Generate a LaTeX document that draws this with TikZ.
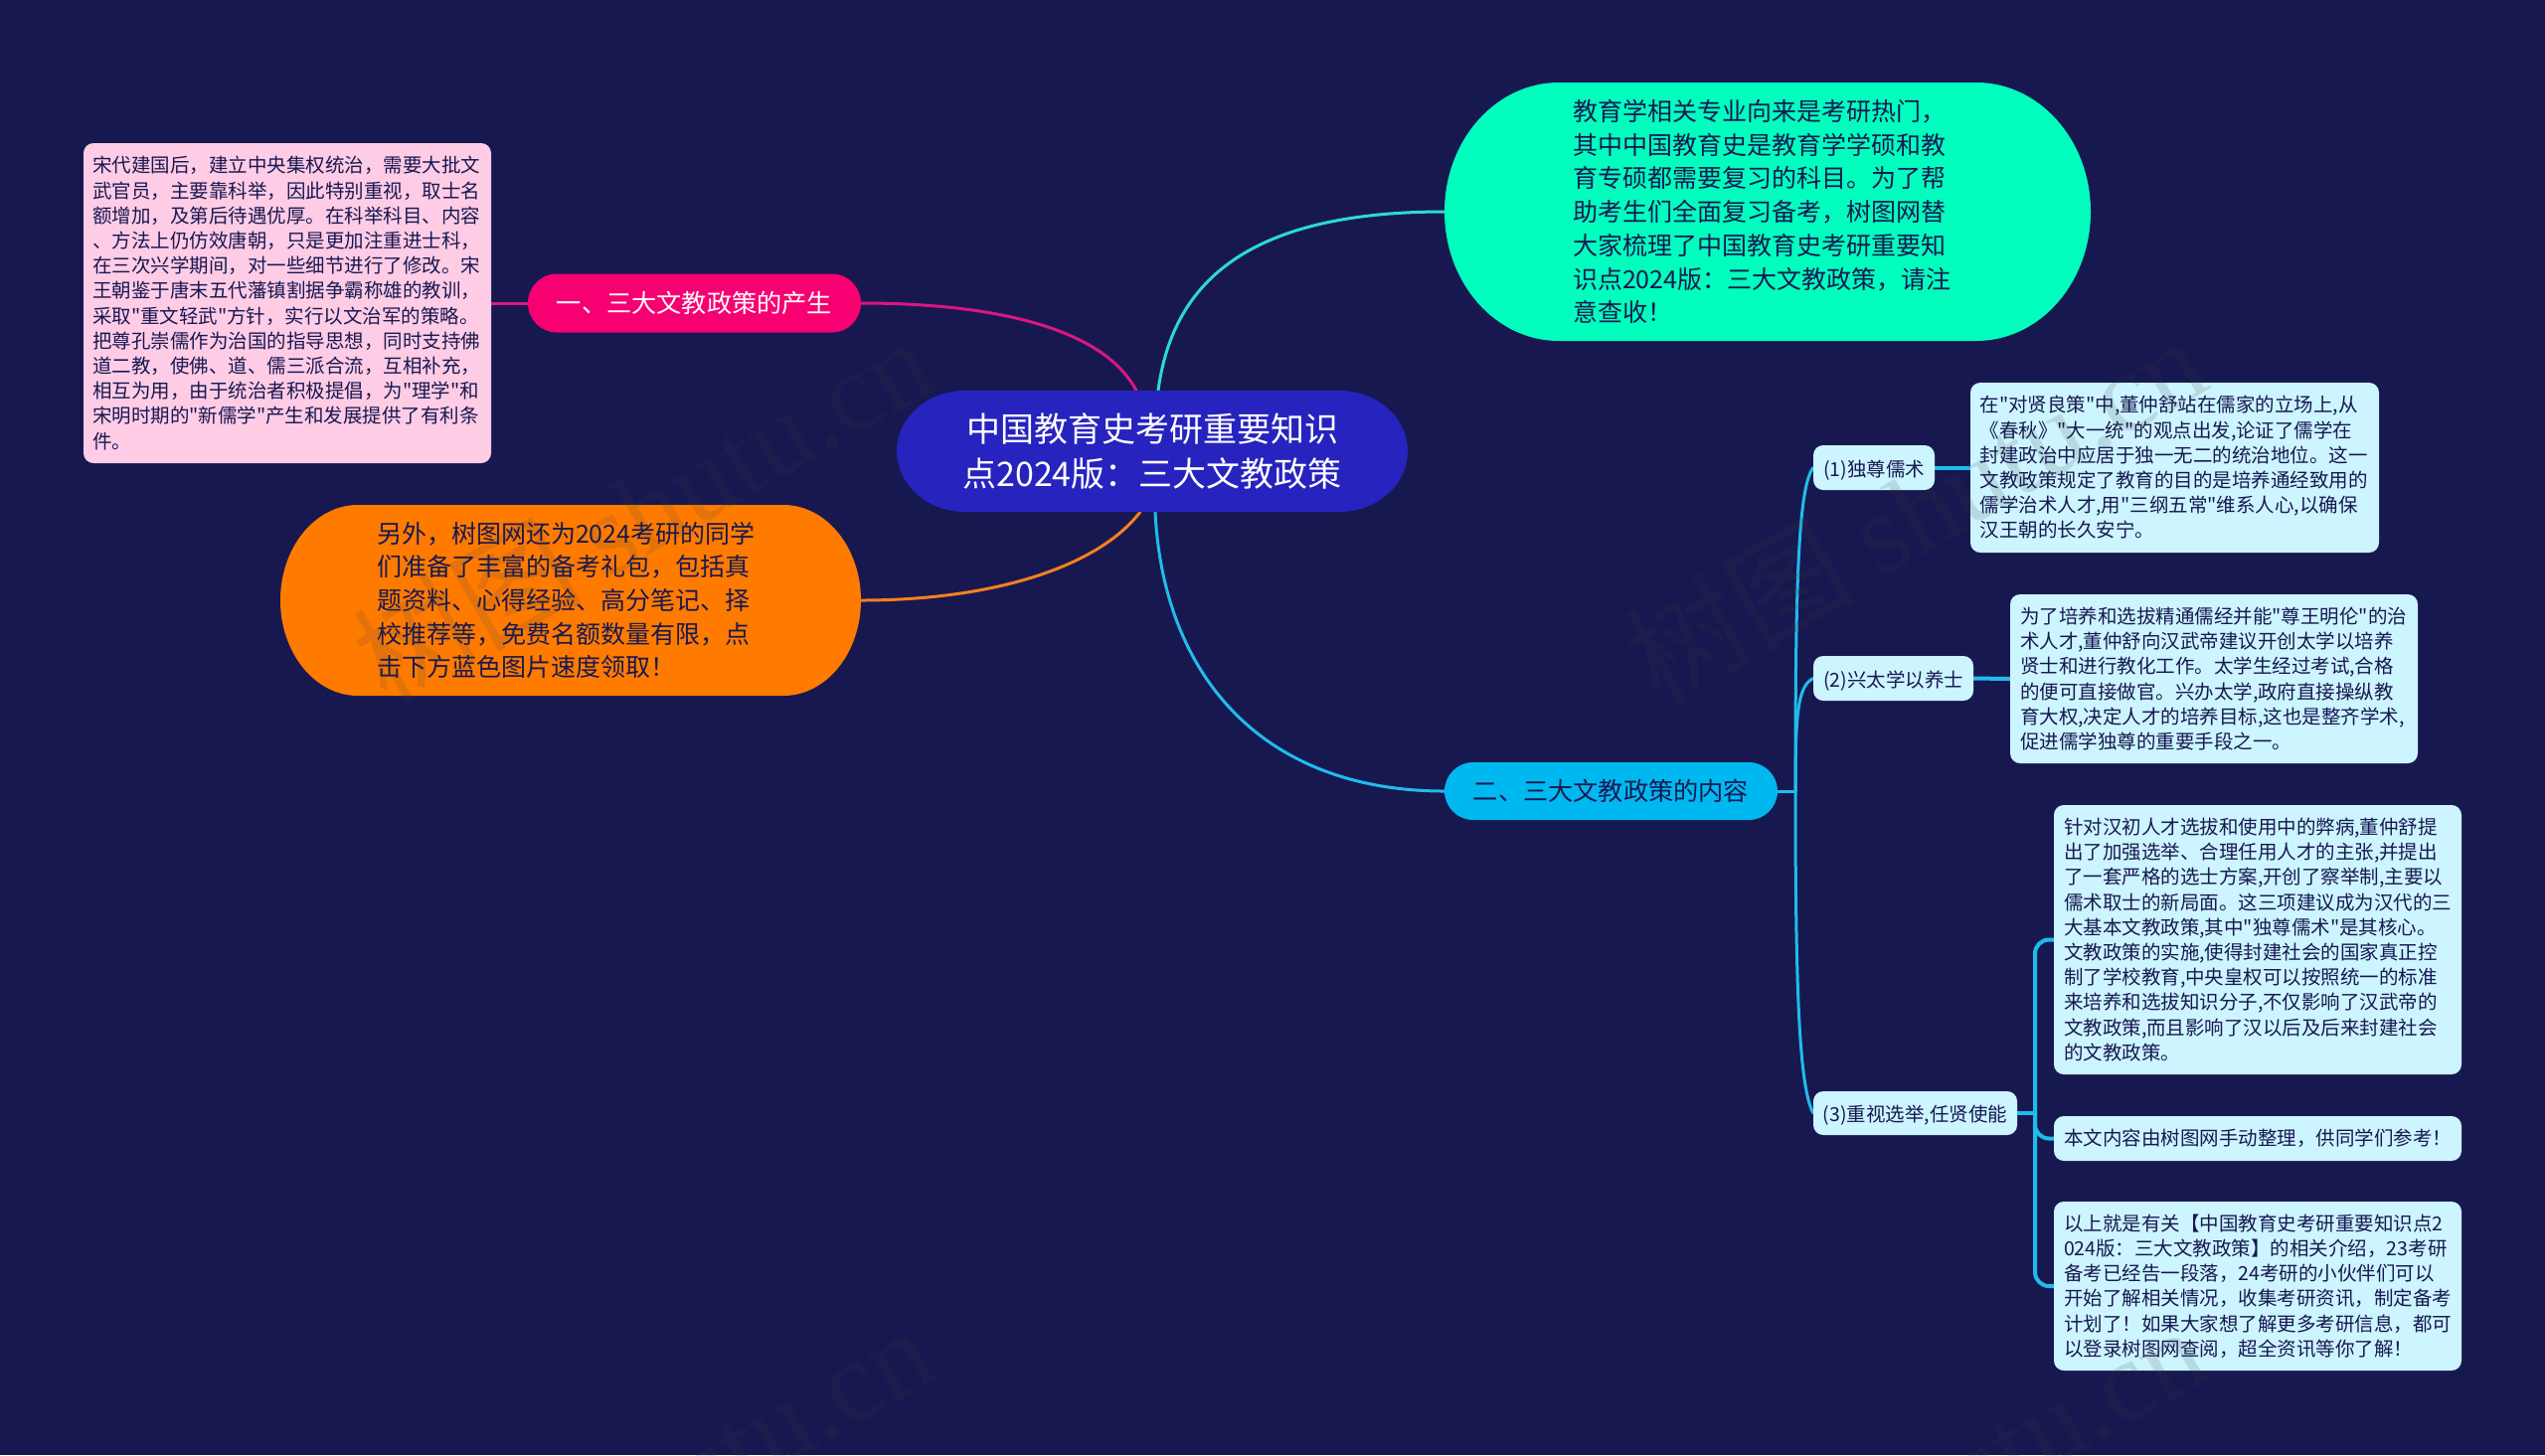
\documentclass[tikz,border=0pt]{standalone}
\usepackage{fontspec}
\usetikzlibrary{calc}
\newfontfamily\cjk{Noto Sans CJK SC}
\newfontfamily\wmfont{Liberation Serif}
\definecolor{bgc}{HTML}{181850}
\definecolor{centralc}{HTML}{2723BF}
\definecolor{greenc}{HTML}{00FFBE}
\definecolor{orangec}{HTML}{FF7B00}
\definecolor{redc}{HTML}{F70072}
\definecolor{cyanc}{HTML}{00B8F0}
\definecolor{lightc}{HTML}{CCF5FF}
\definecolor{pinkc}{HTML}{FFCCE6}
\definecolor{txtc}{HTML}{181850}
\definecolor{linkred}{HTML}{D81880}
\definecolor{linkgreen}{HTML}{2ADCD0}
\definecolor{linkorange}{HTML}{F58020}
\definecolor{linkblue}{HTML}{20BCEC}
\definecolor{wmc}{HTML}{404040}
\pgfdeclarelayer{bg}
\pgfsetlayers{bg,main}
\newcommand{\pillshape}[4]{%
  \fill[#4] ($(#1.north west)+(#2,0)$) -- ($(#1.north east)+(-#2,0)$)
    arc[start angle=-90,end angle=0,x radius=#2,y radius=#3]
    -- ($(#1.south east)+(0,-#3)$)
    arc[start angle=0,end angle=90,x radius=#2,y radius=#3]
    -- ($(#1.south west)+(#2,0)$)
    arc[start angle=90,end angle=180,x radius=#2,y radius=#3]
    -- ($(#1.north west)+(0,#3)$)
    arc[start angle=180,end angle=270,x radius=#2,y radius=#3]
    -- cycle;}
\tikzset{
  base/.style={inner sep=0pt,outer sep=0pt,font=\cjk\fontsize{9.75}{12.6}\selectfont,text=txtc},
  lightbox/.style={base,fill=lightc,rounded corners=5pt,align=left},
  smallbox/.style={lightbox,align=center,text height=10pt,text depth=1.5pt},
  pinkbox/.style={base,fill=pinkc,rounded corners=5pt,align=left},
  bigpill/.style={base,font=\cjk\fontsize{12.5}{16.85}\selectfont,align=left},
  midpill/.style={base,font=\cjk\fontsize{12.6}{15}\selectfont},
  link/.style={line width=1.5pt,line cap=round},
  wmark/.style={inner sep=0pt,rotate=30,text=wmc,opacity=0.15,font=\fontsize{57.5}{62}\selectfont},
}
\begin{document}
\begin{tikzpicture}[x=0.5pt,y=-0.5pt]
\useasboundingbox (0,0) rectangle (2560,1464);

% main nodes
\node[base,font=\cjk\fontsize{17}{22.5}\selectfont,text=white,align=center,minimum width=257pt,minimum height=61pt] (central) at (1159,454)
 {中国教育史考研重要知识\\点2024版：三大文教政策};
\node[bigpill,text width=196pt,minimum width=325pt,minimum height=130pt] (intro) at (1778,213)
 {教育学相关专业向来是考研热门，\\其中中国教育史是教育学学硕和教\\育专硕都需要复习的科目。为了帮\\助考生们全面复习备考，树图网替\\大家梳理了中国教育史考研重要知\\识点2024版：三大文教政策，请注\\意查收！};
\node[bigpill,text width=195pt,minimum width=292pt,minimum height=96pt] (gift) at (574,604)
 {另外，树图网还为2024考研的同学\\们准备了丰富的备考礼包，包括真\\题资料、心得经验、高分笔记、择\\校推荐等，免费名额数量有限，点\\击下方蓝色图片速度领取！};
\node[midpill,text=white,minimum width=167.5pt,minimum height=29.5pt] (one) at (698.5,305) {一、三大文教政策的产生};
\node[midpill,minimum width=167.5pt,minimum height=29pt] (two) at (1620.5,796) {二、三大文教政策的内容};
\node[pinkbox,text width=196pt,minimum width=205pt,minimum height=161pt] (origin) at (289,305)
 {宋代建国后，建立中央集权统治，需要大批文\\武官员，主要靠科举，因此特别重视，取士名\\额增加，及第后待遇优厚。在科举科目、内容\\、方法上仍仿效唐朝，只是更加注重进士科，\\在三次兴学期间，对一些细节进行了修改。宋\\王朝鉴于唐末五代藩镇割据争霸称雄的教训，\\采取"重文轻武"方针，实行以文治军的策略。\\把尊孔崇儒作为治国的指导思想，同时支持佛\\道二教，使佛、道、儒三派合流，互相补充，\\相互为用，由于统治者积极提倡，为"理学"和\\宋明时期的"新儒学"产生和发展提供了有利条\\件。};

\node[smallbox,minimum width=61pt,minimum height=22.5pt] (s1) at (1885,470.5) {(1)独尊儒术};
\node[smallbox,minimum width=80.5pt,minimum height=22.5pt] (s2) at (1904.5,682.5) {(2)兴太学以养士};
\node[smallbox,minimum width=102.5pt,minimum height=22pt] (s3) at (1926.5,1120) {(3)重视选举,任贤使能};

\node[lightbox,text width=196pt,minimum width=205.5pt,minimum height=85.5pt] (a) at (2187.5,470.5)
 {在"对贤良策"中,董仲舒站在儒家的立场上,从\\《春秋》"大一统"的观点出发,论证了儒学在\\封建政治中应居于独一无二的统治地位。这一\\文教政策规定了教育的目的是培养通经致用的\\儒学治术人才,用"三纲五常"维系人心,以确保\\汉王朝的长久安宁。};
\node[lightbox,text width=195pt,minimum width=205pt,minimum height=85pt] (b) at (2227,683)
 {为了培养和选拔精通儒经并能"尊王明伦"的治\\术人才,董仲舒向汉武帝建议开创太学以培养\\贤士和进行教化工作。太学生经过考试,合格\\的便可直接做官。兴办太学,政府直接操纵教\\育大权,决定人才的培养目标,这也是整齐学术,\\促进儒学独尊的重要手段之一。};
\node[lightbox,text width=195pt,minimum width=205pt,minimum height=135.5pt] (c) at (2271,945.5)
 {针对汉初人才选拔和使用中的弊病,董仲舒提\\出了加强选举、合理任用人才的主张,并提出\\了一套严格的选士方案,开创了察举制,主要以\\儒术取士的新局面。这三项建议成为汉代的三\\大基本文教政策,其中"独尊儒术"是其核心。\\文教政策的实施,使得封建社会的国家真正控\\制了学校教育,中央皇权可以按照统一的标准\\来培养和选拔知识分子,不仅影响了汉武帝的\\文教政策,而且影响了汉以后及后来封建社会\\的文教政策。};
\node[lightbox,text width=195pt,minimum width=205pt,minimum height=22.5pt] (d) at (2271,1145.5)
 {本文内容由树图网手动整理，供同学们参考！};
\node[lightbox,text width=195pt,minimum width=205pt,minimum height=85pt] (e) at (2271,1294)
 {以上就是有关【中国教育史考研重要知识点2\\024版：三大文教政策】的相关介绍，23考研\\备考已经告一段落，24考研的小伙伴们可以\\开始了解相关情况，收集考研资讯，制定备考\\计划了！如果大家想了解更多考研信息，都可\\以登录树图网查阅，超全资讯等你了解！};

% junction coordinates
\coordinate (cTopL) at (1143,393);
\coordinate (cTopR) at (1165,393);
\coordinate (cBotL) at (1147,515);
\coordinate (cBotR) at (1162,515);
\coordinate (tr) at (1806,796);
\coordinate (t3) at (2047,1120);

\begin{pgfonlayer}{bg}
  \fill[bgc] (0,0) rectangle (2560,1464);
  \draw[link,linkred] (one.east) .. controls (1000,305) and (1110,330) .. (cTopL);
  \draw[link,linkgreen] (intro.west) .. controls (1260,213) and (1180,280) .. (cTopR);
  \draw[link,linkorange] (gift.east) .. controls (1000,604) and (1105,570) .. (cBotL);
  \draw[link,linkblue] (two.west) .. controls (1270,796) and (1170,680) .. (cBotR);
  \draw[link,linkred] (origin.east) -- (one.west);
  \draw[link,linkblue] (two.east) -- (tr);
  \draw[link,linkblue] (tr) .. controls (1806,600) and (1808,490) .. (s1.west);
  \draw[link,linkblue] (tr) .. controls (1806,720) and (1808,690) .. (s2.west);
  \draw[link,linkblue] (tr) .. controls (1806,1000) and (1810,1095) .. (s3.west);
  \draw[link,linkblue,line width=2pt] (s1.east) -- (a.west);
  \draw[link,linkblue,line width=2pt] (s2.east) -- (b.west);
  \draw[link,linkblue,line width=2pt] (s3.east) -- (t3);
  \draw[link,linkblue,line width=2pt,rounded corners=7pt] (t3) |- (c.west);
  \draw[link,linkblue,line width=2pt,rounded corners=7pt] (t3) |- (d.west);
  \draw[link,linkblue,line width=2pt,rounded corners=7pt] (t3) |- (e.west);
  \pillshape{central}{69}{61}{centralc}
  \pillshape{intro}{115}{130}{greenc}
  \pillshape{gift}{78}{96}{orangec}
  \pillshape{one}{29}{29.5}{redc}
  \pillshape{two}{29}{29}{cyanc}
\end{pgfonlayer}

% watermarks
\node[wmark] (w1) at (646,512) {\cjk 树图 \wmfont shutu.cn};
\node[wmark] (w2) at (1926,512) {\cjk 树图 \wmfont shutu.cn};
\node[wmark] (w3) at (646,1507) {\cjk 树图 \wmfont shutu.cn};
\node[wmark] (w4) at (1926,1507) {\cjk 树图 \wmfont shutu.cn};
\end{tikzpicture}
\end{document}
